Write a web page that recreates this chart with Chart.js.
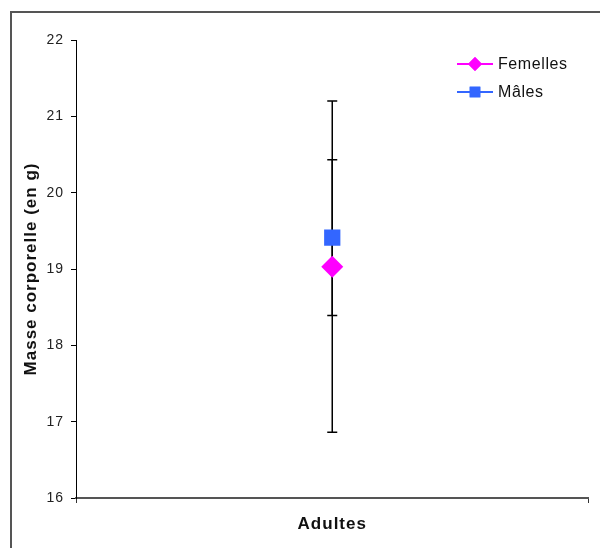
<!DOCTYPE html>
<html>
<head>
<meta charset="utf-8">
<script src="https://cdn.jsdelivr.net/npm/chart.js@4"></script>
<style>
html,body{margin:0;padding:0;background:#fff;}
#wrap{position:relative;width:600px;height:548px;}
</style>
</head>
<body>
<div id="wrap"><canvas id="c" width="600" height="548"></canvas></div>
<script>
const categories = ['Adultes'];
const seriesNames = ['Femelles', 'Mâles'];
const femellesValues = [19.03];
const femellesErrors = [2.17];
const malesValues = [19.41];
const malesErrors = [1.02];
const yMin = 16, yMax = 22, yStep = 1;
const yTitle = 'Masse corporelle (en g)';

const FONT = "'Liberation Sans', Arial, sans-serif";
const colors = ['#ff00ff', '#3366ff'];
const styles = ['rectRot', 'rect'];

const frame = {
  id: 'frame',
  beforeDraw(chart) {
    const ctx = chart.ctx;
    ctx.save();
    ctx.fillStyle = '#fff';
    ctx.fillRect(0, 0, chart.width, chart.height);
    ctx.strokeStyle = '#555';
    ctx.lineWidth = 2;
    ctx.strokeRect(11, 12, 620, 580);
    ctx.restore();
    ctx.letterSpacing = '1px';
  }
};

const errorBars = {
  id: 'errorBars',
  beforeDatasetsDraw(chart) {
    const ctx = chart.ctx;
    const y = chart.scales.y;
    ctx.save();
    ctx.strokeStyle = '#000';
    ctx.lineWidth = 1.5;
    chart.data.datasets.forEach((ds, di) => {
      const meta = chart.getDatasetMeta(di);
      meta.data.forEach((pt, i) => {
        const v = ds.data[i], e = ds.errors[i];
        const yt = y.getPixelForValue(v + e), yb = y.getPixelForValue(v - e);
        const x = pt.x;
        ctx.beginPath();
        ctx.moveTo(x, yt); ctx.lineTo(x, yb);
        ctx.moveTo(x - 5, yt); ctx.lineTo(x + 5, yt);
        ctx.moveTo(x - 5, yb); ctx.lineTo(x + 5, yb);
        ctx.stroke();
      });
    });
    ctx.restore();
  }
};

const legendPlugin = {
  id: 'customLegend',
  afterDraw(chart) {
    const ctx = chart.ctx;
    ctx.save();
    chart.data.datasets.forEach((ds, i) => {
      const yy = 64 + i * 28;
      ctx.strokeStyle = ds.borderColor;
      ctx.lineWidth = 2;
      ctx.beginPath();
      ctx.moveTo(457, yy); ctx.lineTo(493, yy);
      ctx.stroke();
      ctx.fillStyle = ds.backgroundColor;
      Chart.helpers.drawPoint(ctx, {pointStyle: ds.pointStyle, rotation: 0, borderWidth: 0, radius: ds.pointStyle === 'rect' ? 7.5 : 7}, 475, yy);
      ctx.fill();
      ctx.fillStyle = '#111';
      ctx.letterSpacing = '0.6px';
      ctx.font = '16px ' + FONT;
      ctx.textBaseline = 'middle';
      ctx.textAlign = 'left';
      ctx.fillText(ds.label, 498, yy + 1);
    });
    ctx.restore();
  }
};

new Chart(document.getElementById('c'), {
  type: 'line',
  data: {
    labels: categories,
    datasets: [
      {
        label: seriesNames[0], data: femellesValues, errors: femellesErrors,
        borderColor: colors[0], backgroundColor: colors[0],
        pointStyle: styles[0], pointRadius: 11, pointHoverRadius: 11, borderWidth: 0, pointBorderWidth: 0
      },
      {
        label: seriesNames[1], data: malesValues, errors: malesErrors,
        borderColor: colors[1], backgroundColor: colors[1],
        pointStyle: styles[1], pointRadius: 11.5, pointHoverRadius: 11.5, borderWidth: 0, pointBorderWidth: 0
      }
    ]
  },
  options: {
    responsive: false,
    animation: false,
    events: [],
    layout: { padding: { left: 10, top: 40, right: 10, bottom: 0 } },
    plugins: { legend: { display: false }, tooltip: { enabled: false } },
    scales: {
      x: {
        type: 'category',
        offset: true,
        afterFit(s) { s.height = 50; },
        grid: { offset: true, drawOnChartArea: false, drawTicks: true, tickLength: 5, color: '#333', lineWidth: 1 },
        border: { color: '#555', width: 2 },
        ticks: { color: '#111', padding: 11, font: { family: FONT, size: 17, weight: 'bold' } }
      },
      y: {
        min: yMin, max: yMax,
        afterFit(s) { s.width = 66; },
        grid: { drawOnChartArea: false, drawTicks: true, tickLength: 5, color: '#000' },
        border: { color: '#000', width: 1 },
        ticks: { stepSize: yStep, color: '#222', padding: 7, font: { family: FONT, size: 14 } },
        title: { display: true, text: yTitle, color: '#111', padding: { top: 11, bottom: 0 }, font: { family: FONT, size: 17, weight: 'bold' } }
      }
    }
  },
  plugins: [frame, errorBars, legendPlugin]
});
</script>
</body>
</html>
